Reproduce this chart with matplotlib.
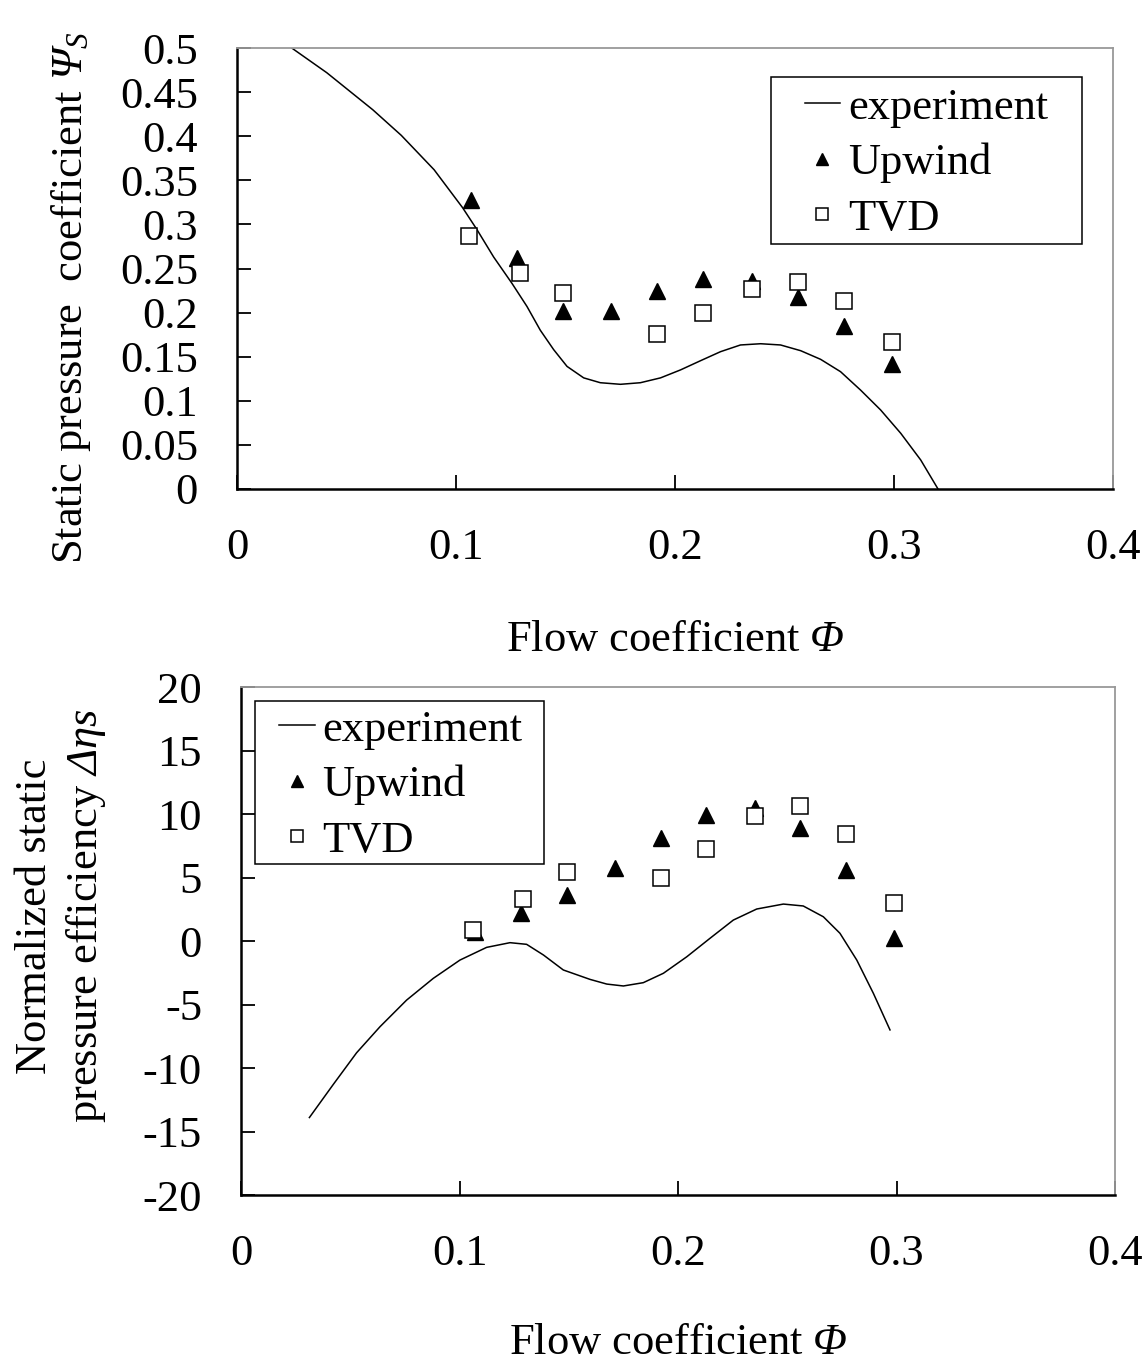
import matplotlib
matplotlib.use("Agg")
import matplotlib.pyplot as plt
from matplotlib.patches import Rectangle
from matplotlib.ticker import FuncFormatter, MultipleLocator

plt.rcParams['font.family'] = ['Liberation Serif', 'DejaVu Serif']
plt.rcParams['mathtext.fontset'] = 'custom'
plt.rcParams['mathtext.rm'] = 'Liberation Serif'
plt.rcParams['mathtext.it'] = 'Liberation Serif:italic'
plt.rcParams['mathtext.sf'] = 'Liberation Serif:italic'

FS = 32

# flow coefficient of the computed points
phi_upwind = [0.107, 0.128, 0.149, 0.171, 0.192, 0.213, 0.235, 0.256, 0.277, 0.299]
phi_tvd = [0.106, 0.129, 0.149, 0.192, 0.213, 0.235, 0.256, 0.277, 0.299]

# static pressure coefficient (top panel)
psi_exp_phi = [0.025, 0.041, 0.052, 0.062, 0.075, 0.090, 0.103, 0.1096, 0.1172,
               0.1256, 0.1324, 0.1385, 0.1446, 0.1507, 0.1583, 0.1659, 0.1751,
               0.1842, 0.1934, 0.2025, 0.2117, 0.2208, 0.2299, 0.2391, 0.2482,
               0.2574, 0.2665, 0.2756, 0.2848, 0.2939, 0.3031, 0.3122, 0.3201]
psi_exp = [0.500, 0.472, 0.450, 0.430, 0.401, 0.362, 0.319, 0.294, 0.263,
           0.233, 0.207, 0.180, 0.158, 0.139, 0.126, 0.1205, 0.1187,
           0.1205, 0.126, 0.135, 0.1455, 0.1557, 0.1633, 0.1647, 0.1633,
           0.1568, 0.147, 0.133, 0.112, 0.0896, 0.0631, 0.0329, 0.0]
psi_upwind = [0.328, 0.262, 0.202, 0.202, 0.225, 0.238, 0.236, 0.218, 0.185, 0.142]
psi_tvd = [0.287, 0.245, 0.222, 0.176, 0.200, 0.227, 0.235, 0.213, 0.167]

# normalized static pressure efficiency (bottom panel)
eta_exp_phi = [0.0313, 0.0422, 0.0529, 0.0636, 0.0758, 0.0880, 0.1002, 0.1124,
               0.1231, 0.1307, 0.1384, 0.1475, 0.1597, 0.1674, 0.1750, 0.1841,
               0.1933, 0.2040, 0.2146, 0.2253, 0.2360, 0.2482, 0.2573, 0.2665,
               0.2741, 0.2818, 0.2894, 0.2970]
eta_exp = [-13.9, -11.3, -8.8, -6.75, -4.65, -2.94, -1.5, -0.5,
           -0.13, -0.26, -1.1, -2.28, -3.02, -3.39, -3.54, -3.28,
           -2.54, -1.24, 0.21, 1.65, 2.52, 2.91, 2.76, 1.91,
           0.61, -1.5, -4.12, -7.0]
eta_upwind = [0.7, 2.2, 3.6, 5.75, 8.1, 9.9, 10.5, 8.9, 5.6, 0.25]
eta_tvd = [0.85, 3.3, 5.4, 4.95, 7.25, 9.85, 10.6, 8.45, 3.0]


def style_axes(ax):
    for side in ['left', 'bottom']:
        ax.spines[side].set_color('black')
        ax.spines[side].set_linewidth(1.8)
    for side in ['top', 'right']:
        ax.spines[side].set_color('#999999')
        ax.spines[side].set_linewidth(1.3)
    ax.tick_params(direction='in', length=10, width=1.3, labelsize=FS, pad=28,
                   top=False, right=False)
    ax.xaxis.set_major_formatter(FuncFormatter(lambda v, p: '%g' % round(v, 3)))
    ax.yaxis.set_major_formatter(FuncFormatter(lambda v, p: '%g' % round(v, 3)))


def draw_series(ax, x_exp, y_exp, y_up, y_tvd):
    ax.plot(x_exp, y_exp, color='black', lw=1.1, label='experiment')
    ax.plot(phi_upwind, y_up, linestyle='none', marker='^', ms=11.5,
            color='black', label='Upwind')
    ax.plot(phi_tvd, y_tvd, linestyle='none', marker='s', ms=11.5,
            markerfacecolor='white', markeredgecolor='black', mew=1.1,
            label='TVD')


def add_legend(ax, anchor, box):
    # legend entries without frame; the frame is drawn as a separate box
    ax.legend(loc='center left', bbox_to_anchor=anchor, fontsize=FS,
              frameon=False, borderaxespad=0, borderpad=0, handlelength=0.8,
              handletextpad=0.18, labelspacing=0.34, markerscale=0.8)
    x0, y0, x1, y1 = box
    ax.add_patch(Rectangle((x0, y0), x1 - x0, y1 - y0, transform=ax.transAxes,
                           fill=False, edgecolor='black', lw=1.1, zorder=5))


fig = plt.figure(figsize=(11.46, 13.64), dpi=100)

# top panel
ax1 = fig.add_axes([0.2068, 0.6415, 0.7644, 0.3233])
draw_series(ax1, psi_exp_phi, psi_exp, psi_upwind, psi_tvd)
ax1.set_xlim(0, 0.4)
ax1.set_ylim(0, 0.5)
ax1.xaxis.set_major_locator(MultipleLocator(0.1))
ax1.yaxis.set_major_locator(MultipleLocator(0.05))
style_axes(ax1)
ax1.set_xlabel(r'Flow coefficient $\mathsf{Φ}$', fontsize=FS)
ax1.xaxis.label.set_va('center')
ax1.xaxis.set_label_coords(0.5, -0.343)
ax1.set_ylabel(r'Static pressure  coefficient $\mathsf{Ψ}_{\mathsf{S}}$', fontsize=FS)
ax1.yaxis.label.set_va('center')
ax1.yaxis.set_label_coords(-0.19, 0.435)
add_legend(ax1, (0.648, 0.739), (0.6096, 0.5556, 0.9646, 0.934))

# bottom panel
ax2 = fig.add_axes([0.2103, 0.1239, 0.7627, 0.3724])
draw_series(ax2, eta_exp_phi, eta_exp, eta_upwind, eta_tvd)
ax2.set_xlim(0, 0.4)
ax2.set_ylim(-20, 20)
ax2.xaxis.set_major_locator(MultipleLocator(0.1))
ax2.yaxis.set_major_locator(MultipleLocator(5))
style_axes(ax2)
ax2.set_xlabel(r'Flow coefficient $\mathsf{Φ}$', fontsize=FS)
ax2.xaxis.label.set_va('center')
ax2.xaxis.set_label_coords(0.5, -0.292)
ax2.set_ylabel('Normalized static\n' + r'pressure efficiency $\mathsf{Δηs}$',
               fontsize=FS, linespacing=1.27)
ax2.yaxis.label.set_va('center')
ax2.yaxis.set_label_coords(-0.205, 0.549)
add_legend(ax2, (0.0435, 0.807), (0.016, 0.6516, 0.3467, 0.9724))

fig.savefig('out.png', dpi=100)
